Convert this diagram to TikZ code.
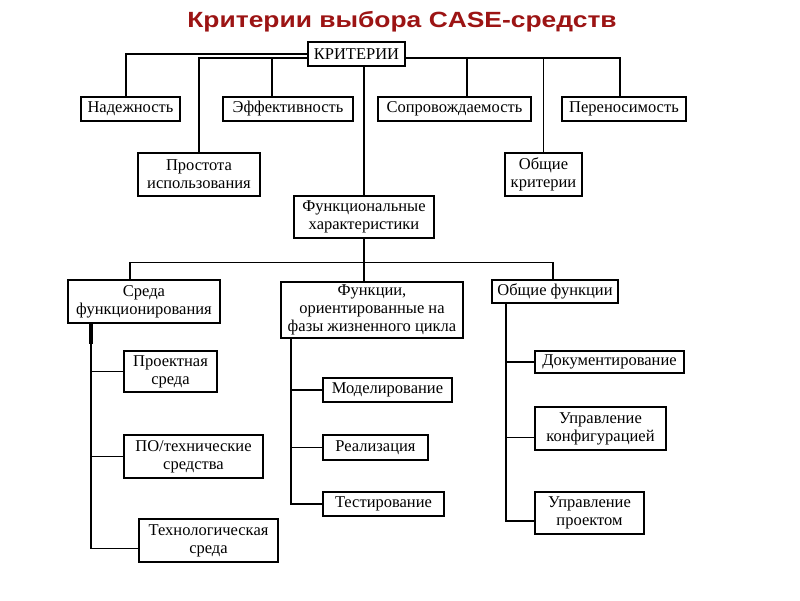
\documentclass[tikz,border=0pt]{standalone}
\usepackage{fontspec}
\setmainfont{Liberation Serif}
\newfontfamily\titlefont{Liberation Sans}
\usepackage{xcolor}
\usepackage{tikz}
\usetikzlibrary{positioning,calc}
\definecolor{titlered}{HTML}{9C1414}

\begin{document}
\begin{tikzpicture}[x=1pt,y=-1pt,
    box/.style={draw, line width=1.5pt, align=center, inner sep=1pt,
      font=\fontsize{16.5}{18}\selectfont},
    link/.style={line width=1.3pt},
    boldlink/.style={line width=2.4pt}]
  \useasboundingbox (0,0) rectangle (800,600);
  \node[font=\titlefont\bfseries\fontsize{22}{24}\selectfont, text=titlered] (title) at (402,22)
    {\scalebox{1.2}[1]{Критерии выбора CASE-средств}};

  % верхний уровень
  \node[box, minimum width=97, minimum height=24] (krit) at (356.5,54) {КРИТЕРИИ};
  \node[box, minimum width=99, minimum height=24] (nad) at (130.5,109) {Надежность};
  \node[box, minimum width=130, minimum height=24] (eff) at (288,109) {Эффективность};
  \node[box, minimum width=153, minimum height=24] (sop) at (454.5,109) {Сопровождаемость};
  \node[box, minimum width=124, minimum height=24] (per) at (624,109) {Переносимость};
  \node[box, minimum width=122, minimum height=43] (prost) at (199,174.5) {Простота\\использования};
  \node[box, minimum width=77, minimum height=43] (obkr) at (543.5,174.5) {Общие\\критерии};
  \node[box, minimum width=140, minimum height=42] (func) at (364,217) {Функциональные\\характеристики};

  % функциональные характеристики
  \node[box, minimum width=152, minimum height=43] (sreda) at (144,301.5) {Среда\\функционирования};
  \node[box, minimum width=182, minimum height=56] (fazy) at (372,310)
    {Функции,\\ориентированные на\\фазы жизненного цикла};
  \node[box, minimum width=126, minimum height=23] (obf) at (555,291.5) {Общие функции};

  \node[box, minimum width=93, minimum height=41] (proekt) at (170.5,371.5) {Проектная\\среда};
  \node[box, minimum width=139, minimum height=43] (potech) at (193.5,456.5) {ПО/технические\\средства};
  \node[box, minimum width=139, minimum height=43] (tehn) at (208.5,540.5) {Технологическая\\среда};

  \node[box, minimum width=129, minimum height=24] (model) at (387.5,390) {Моделирование};
  \node[box, minimum width=105, minimum height=25] (real) at (375.5,447.5) {Реализация};
  \node[box, minimum width=121, minimum height=24] (test) at (383.5,504) {Тестирование};

  \node[box, minimum width=149, minimum height=22] (doc) at (609.5,362) {Документирование};
  \node[box, minimum width=131, minimum height=43] (upk) at (600.5,428.5) {Управление\\конфигурацией};
  \node[box, minimum width=109, minimum height=42] (upp) at (589.5,513) {Управление\\проектом};

  % связи от критериев
  \coordinate (kl) at ([yshift=-4pt]krit.west);
  \coordinate (kr) at ([yshift=-4pt]krit.east);
  \draw[link] (krit.west) -| ([xshift=-4.5pt]nad.north);
  \draw[link] (kl) -| (prost.north);
  \draw[boldlink] ([xshift=-16pt]eff.north |- kl) -- (kl);
  \draw[link] ([xshift=-16pt]eff.north) -- ([xshift=-16pt]eff.north |- kl);
  \draw[link] (kr) -| ([xshift=-4pt]per.north);
  \draw[boldlink] (kr) -- (obkr.north |- kr);
  \draw[link] ([xshift=12.5pt]sop.north) -- ([xshift=12.5pt]sop.north |- kr);
  \draw[link] (obkr.north) -- (obkr.north |- kr);
  \draw[link] (func.north) -- (func.north |- krit.south);

  % связи от функциональных характеристик
  \coordinate (bus) at ([yshift=-24pt]func.south);
  \draw[boldlink] (func.south) -- (bus);
  \draw[link] (bus) -| ([xshift=-14pt]sreda.north);
  \draw[link] (bus) -| ([xshift=-2pt]obf.north);
  \draw[link] (bus) -- (bus |- fazy.north);

  % среда функционирования
  \coordinate (lt) at ([xshift=-53pt]sreda.south);
  \draw[link, double, double distance=1pt] (lt) -- ++(0,20);
  \draw[link] (lt) |- (proekt.west);
  \draw[link] (lt) |- (potech.west);
  \draw[link] (lt) |- ([yshift=-8pt]tehn.west);

  % фазы жизненного цикла
  \coordinate (mt) at ([xshift=-81pt]fazy.south);
  \draw[boldlink] (mt) -- (mt |- model.west);
  \draw[link] (mt) |- (model.west);
  \draw[link] (mt) |- (real.west);
  \draw[link] (mt) |- (test.west);

  % общие функции
  \coordinate (rt) at ([xshift=-49pt]obf.south);
  \draw[boldlink] (rt) -- (rt |- doc.west);
  \draw[link] (rt) |- (doc.west);
  \draw[link] (rt) |- ([yshift=-9pt]upk.west);
  \draw[link] (rt) |- ([yshift=-8pt]upp.west);
\end{tikzpicture}
\end{document}
